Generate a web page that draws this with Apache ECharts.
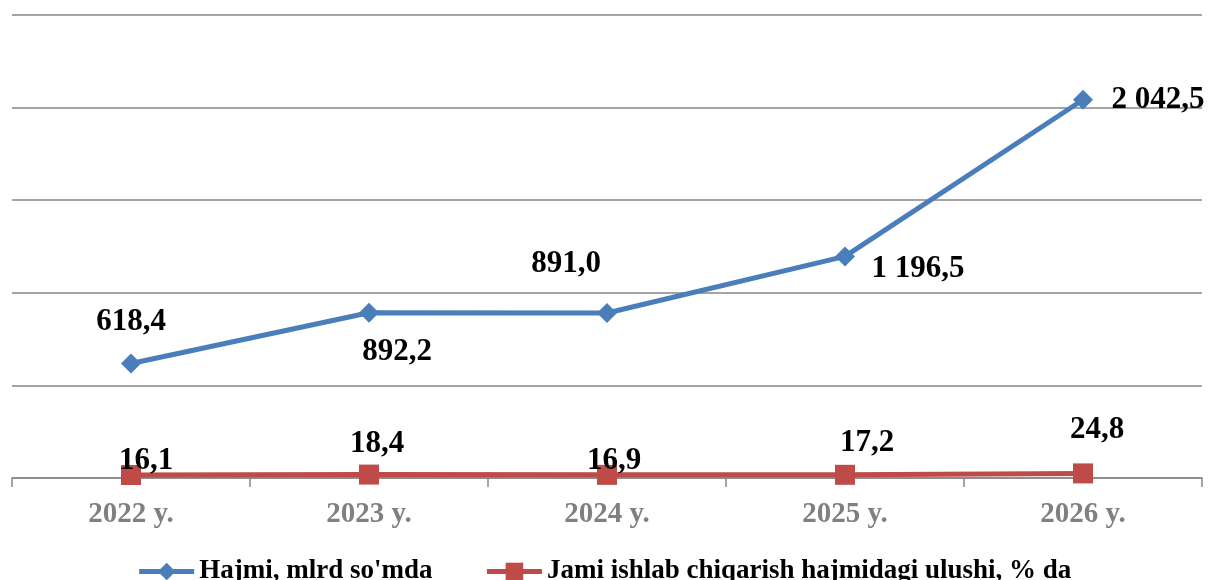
<!DOCTYPE html>
<html>
<head>
<meta charset="utf-8">
<script src="https://cdn.jsdelivr.net/npm/echarts@6/dist/echarts.min.js"></script>
<style>
  html, body { margin: 0; padding: 0; background: #fff; }
  #chart { width: 1208px; height: 580px; }
</style>
</head>
<body>
<div id="chart"></div>
<script>
var years = ['2022 y.', '2023 y.', '2024 y.', '2025 y.', '2026 y.'];
var volumeName = "Hajmi, mlrd so'mda";
var shareName = 'Jami ishlab chiqarish hajmidagi ulushi, % da';
var volume = [618.4, 892.2, 891.0, 1196.5, 2042.5];
var share = [16.1, 18.4, 16.9, 17.2, 24.8];

// label offsets (centre of label vs. point)
var volumeOffsets = [[0, -41], [28, 39], [-41, -49], [73, 13], [75, 0]];
var shareOffsets = [[15, -14], [8, -31], [7, -14], [22, -32], [14, -43]];

var serif = '"Liberation Serif", "Times New Roman", serif';

function fmt(v) {
    var s = v.toFixed(1).split('.');
    var intPart = s[0].replace(/\B(?=(\d{3})+(?!\d))/g, ' ');
    return intPart + ',' + s[1];
}

function withLabels(values, offsets) {
    return values.map(function (v, i) {
        return { value: v, label: { offset: offsets[i] } };
    });
}

var chartDom = document.getElementById('chart');
var myChart = echarts.init(chartDom);
var option = {
    animation: false,
    grid: {
        left: 12,
        right: 6,
        top: 15,
        bottom: 102
    },
    legend: {
        bottom: -10,
        left: 'center',
        itemWidth: 55,
        itemHeight: 22,
        itemGap: 52,
        lineStyle: { width: 5 },
        textStyle: {
            fontFamily: serif,
            fontWeight: 'bold',
            fontSize: 27,
            color: '#000'
        },
        data: [volumeName, shareName]
    },
    xAxis: {
        type: 'category',
        data: years,
        boundaryGap: true,
        axisLine: { lineStyle: { color: '#868686', width: 1.5 } },
        axisTick: { show: true, length: 9, lineStyle: { color: '#868686', width: 1.5 } },
        axisLabel: {
            margin: 22,
            fontFamily: serif,
            fontWeight: 'bold',
            fontSize: 29,
            color: '#808080'
        }
    },
    yAxis: {
        type: 'value',
        min: 0,
        max: 2500,
        interval: 500,
        axisLabel: { show: false },
        axisLine: { show: false },
        axisTick: { show: false },
        splitLine: { lineStyle: { color: '#868686', width: 1.5 } }
    },
    series: [
        {
            name: volumeName,
            type: 'line',
            data: withLabels(volume, volumeOffsets),
            symbol: 'diamond',
            symbolSize: 20,
            itemStyle: { color: '#4a7ebb' },
            lineStyle: { color: '#4a7ebb', width: 5 },
            label: {
                show: true,
                position: 'inside',
                align: 'center',
                verticalAlign: 'middle',
                fontFamily: serif,
                fontWeight: 'bold',
                fontSize: 31,
                color: '#000',
                formatter: function (p) { return fmt(p.value); }
            }
        },
        {
            name: shareName,
            type: 'line',
            data: withLabels(share, shareOffsets),
            symbol: 'rect',
            symbolSize: 20,
            itemStyle: { color: '#be4b48' },
            lineStyle: { color: '#be4b48', width: 5 },
            label: {
                show: true,
                position: 'inside',
                align: 'center',
                verticalAlign: 'middle',
                fontFamily: serif,
                fontWeight: 'bold',
                fontSize: 31,
                color: '#000',
                formatter: function (p) { return fmt(p.value); }
            }
        }
    ]
};

option && myChart.setOption(option);
</script>
</body>
</html>
